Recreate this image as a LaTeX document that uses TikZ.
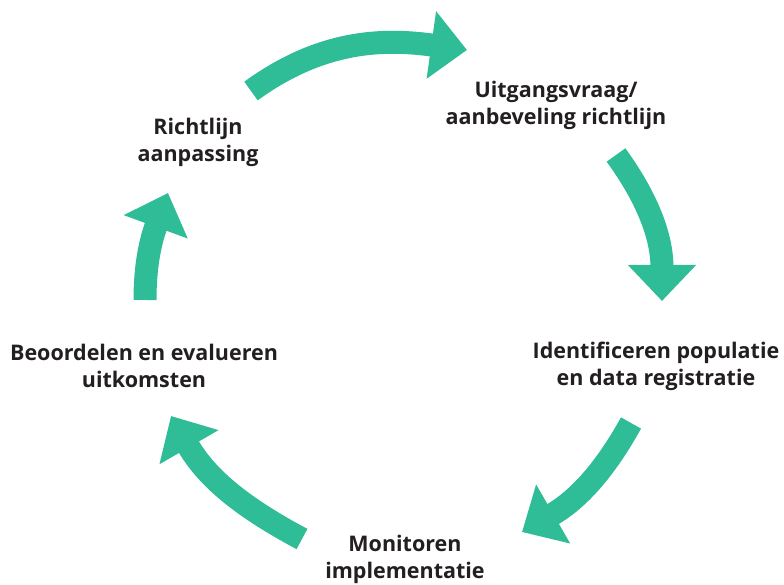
\documentclass[tikz,border=0pt]{standalone}
\usepackage{fontspec}
\setmainfont{Open Sans}
\usepackage{xcolor}
\usepackage{tikz}
\usetikzlibrary{arrows.meta}
\definecolor{cyclegreen}{RGB}{46,189,150}
\definecolor{labeltext}{RGB}{35,31,32}
\tikzset{
steplabel/.style={align=center, text=labeltext, font=\fontsize{21.5}{27}\selectfont\bfseries, inner sep=0pt},
cyclearrow/.style={draw=cyclegreen, line width=23pt, -{Triangle[width=66pt,length=36pt]}},
}

\begin{document}
\begin{tikzpicture}[x=1pt,y=1pt]
  \useasboundingbox (0,0) rectangle (784,584);

  \node[steplabel] at (556,479) (vraag) {Uitgangsvraag/\\aanbeveling richtlijn};
  \node[steplabel] at (656,218) (registratie) {Identificeren populatie\\en data registratie};
  \node[steplabel] at (405,25) (monitoren) {Monitoren\\implementatie};
  \node[steplabel] at (144,218) (evalueren) {Beoordelen en evalueren\\uitkomsten};
  \node[steplabel] at (198,442) (aanpassing) {Richtlijn\\aanpassing};

  \coordinate (a1s) at (251,493);
  \coordinate (a1e) at (467,534);
  \coordinate (a2s) at (616,429);
  \coordinate (a2e) at (662,283);
  \coordinate (a3s) at (631,161);
  \coordinate (a3e) at (522,52);
  \coordinate (a4s) at (302,45);
  \coordinate (a4e) at (171,168);
  \coordinate (a5s) at (145,284);
  \coordinate (a5e) at (168,391);

  \draw[cyclearrow] (a1s) to[out=36,in=172] (a1e);
  \draw[cyclearrow] (a2s) to[out=-54,in=90] (a2e);
  \draw[cyclearrow] (a3s) to[out=-119,in=30] (a3e);
  \draw[cyclearrow] (a4s) to[out=152,in=-60] (a4e);
  \draw[cyclearrow] (a5s) to[out=90,in=-110] (a5e);
\end{tikzpicture}
\end{document}
